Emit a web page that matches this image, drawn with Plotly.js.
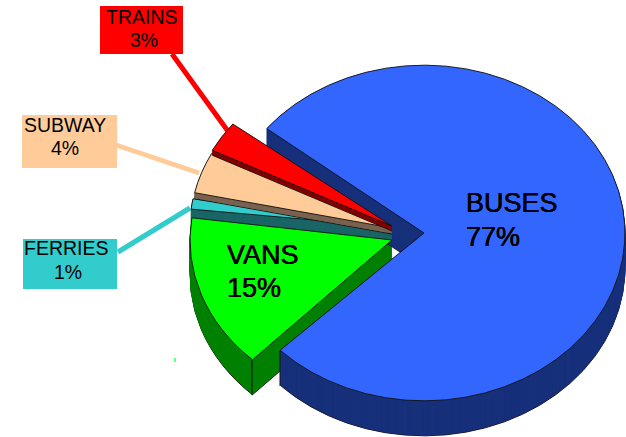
<!DOCTYPE html>
<html>
<head>
<meta charset="utf-8">
<script src="https://cdn.plot.ly/plotly-3.0.1.min.js"></script>
<style>html,body{margin:0;padding:0;background:#fff;overflow:hidden}#chart{width:626px;height:437px}</style>
</head>
<body>
<div id="chart"></div>
<script>
var categories = ['BUSES', 'VANS', 'FERRIES', 'SUBWAY', 'TRAINS'];
var shares = [77, 15, 1, 4, 3];
var topColors = ['#3366FF', '#00FF00', '#33CCCC', '#FFCC99', '#FF0000'];
var wallColors = ['#17307B', '#008000', '#1A6666', '#7A6250', '#800000'];
var wallDepths = [35, 35, 14, 6, 5];
var apexX = [424, 392, 392, 392, 392];
var apexY = [233, 240, 227, 228, 226];
var radii = [201, 202, 202, 202, 202];
var squash = [0.835, 0.82, 0.82, 0.82, 0.82];
var rotations = [308.5, 306.5, 305, 307.5, 308];

var W = 626, H = 437;
var traces = [], placements = [];

function addLayer(i, drop, color, edge) {
  var R = radii[i];
  traces.push({
    type: 'pie', values: shares, labels: categories, sort: false, direction: 'clockwise',
    rotation: rotations[i], textinfo: 'none', hoverinfo: 'skip', showlegend: false,
    domain: {x: [(W / 2 - R) / W, (W / 2 + R) / W], y: [(H / 2 - R) / H, (H / 2 + R) / H]},
    marker: {
      colors: categories.map(function (c, k) { return k === i ? color : 'rgba(0,0,0,0)'; }),
      line: {
        color: categories.map(function (c, k) { return k === i ? edge : 'rgba(0,0,0,0)'; }),
        width: categories.map(function (c, k) { return k === i ? 1 : 0; })
      }
    }
  });
  placements.push([apexX[i], apexY[i] + drop, squash[i]]);
}
function addWall(i) {
  for (var d = wallDepths[i]; d >= 1; d--) {
    addLayer(i, d, wallColors[i], d === wallDepths[i] ? '#111' : wallColors[i]);
  }
}
function addTop(i) { addLayer(i, 0, topColors[i], '#111'); }

addWall(1);
addWall(0); addTop(0);
addWall(2); addTop(2);
addWall(3); addTop(3);
addWall(4); addTop(4);
addTop(1);

function px(x) { return x / W; }
function py(y) { return 1 - y / H; }
function lead(x0, y0, x1, y1, color, layer, width) {
  return {type: 'line', xref: 'paper', yref: 'paper', x0: px(x0), y0: py(y0), x1: px(x1), y1: py(y1),
          layer: layer || 'below', line: {color: color, width: width || 5}};
}
function box(i, x0, y0, x1, y1) {
  return {type: 'rect', xref: 'paper', yref: 'paper', x0: px(x0), x1: px(x1), y0: py(y0), y1: py(y1),
          fillcolor: topColors[i], line: {width: 0}, layer: 'below'};
}
var shapes = [
  lead(172, 54, 230, 134, topColors[4]),
  lead(116, 145, 199, 173, topColors[3]),
  lead(118, 252, 190, 208, topColors[2]),
  box(4, 100, 6, 183, 54),
  box(3, 22, 115, 117, 168),
  box(2, 23, 239, 117, 289),
  lead(252, 360, 252, 395, '#111', 'above', 1),
  lead(280, 351, 280, 386, '#111', 'above', 1),
  {type: 'rect', xref: 'paper', yref: 'paper', x0: px(174), x1: px(176), y0: py(358), y1: py(362),
   fillcolor: '#66FF88', line: {width: 0}, layer: 'below'}
];

function textLine(txt, x, y, size, anchor, heavy) {
  var font = {family: 'Liberation Sans, Arial, sans-serif', size: size, color: '#000'};
  if (heavy) font.shadow = '0.3px 0 0 #000, -0.3px 0 0 #000';
  return {xref: 'paper', yref: 'paper', x: px(x), y: py(y), xanchor: anchor, yanchor: 'middle',
          showarrow: false, borderpad: 0, text: txt, font: font};
}
var annotations = [
  textLine(categories[4], 142, 17, 19.5, 'center'),
  textLine(shares[4] + '%', 144, 40, 19.5, 'center'),
  textLine(categories[3], 65, 125, 19.5, 'center'),
  textLine(shares[3] + '%', 65, 148, 19.5, 'center'),
  textLine(categories[2], 66, 248, 19.5, 'center'),
  textLine(shares[2] + '%', 68, 272, 19.5, 'center'),
  textLine(categories[0], 465, 203, 27, 'left', true),
  textLine(shares[0] + '%', 465, 237, 27, 'left', true),
  textLine(categories[1], 226, 255, 27, 'left', true),
  textLine(shares[1] + '%', 226, 288, 27, 'left', true)
];

var layout = {
  width: W, height: H, margin: {l: 0, r: 0, t: 0, b: 0}, autosize: false,
  paper_bgcolor: '#ffffff', plot_bgcolor: '#ffffff', showlegend: false,
  shapes: shapes, annotations: annotations
};

Plotly.newPlot('chart', traces, layout, {displayModeBar: false, staticPlot: true}).then(function (gd) {
  var groups = gd.querySelectorAll('.pielayer .trace');
  groups.forEach(function (g, n) {
    var p = placements[n];
    g.setAttribute('transform', 'translate(' + p[0] + ',' + p[1] + ') scale(1,' + p[2] + ') translate(' + (-W / 2) + ',' + (-H / 2) + ')');
  });
});
</script>
</body>
</html>
